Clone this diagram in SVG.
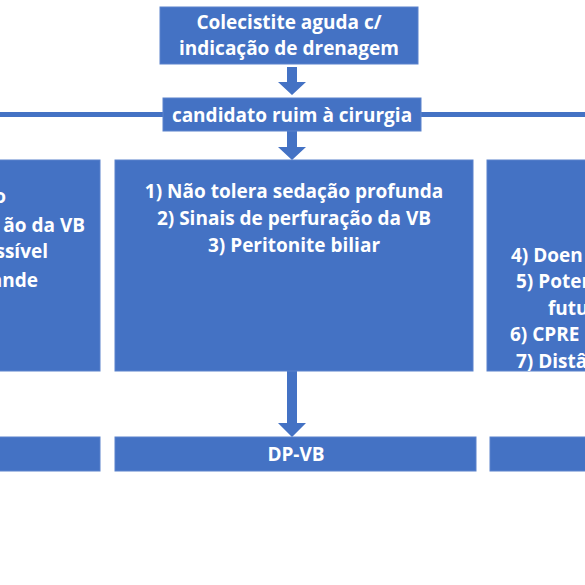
<svg xmlns="http://www.w3.org/2000/svg" width="585" height="585" viewBox="0 0 585 585">
  <style>
    .box { fill: #4472C4; stroke: #5a82cc; stroke-width: 1; }
    .conn { fill: #4472C4; }
    .t { font-family: "Open Sans", "Noto Sans", "DejaVu Sans", sans-serif; font-weight: 700; font-size: 19px; fill: #ffffff; }
    .c { text-anchor: middle; }
    .e { text-anchor: end; }
  </style>
  <defs>
    <clipPath id="clipRight"><rect x="487" y="160" width="120" height="211"/></clipPath>
    <clipPath id="clipLeft"><rect x="-260" y="160" width="360" height="211"/></clipPath>
  </defs>
  <rect width="585" height="585" fill="#ffffff"/>

  <g id="connectors">
    <rect class="conn" x="0" y="112" width="585" height="5"/>
    <polygon class="conn" points="287,67 297,67 297,82 306,82 292,95 278,82 287,82"/>
    <polygon class="conn" points="287,131 297,131 297,147 306,147 292,160 278,147 287,147"/>
    <polygon class="conn" points="287,371 297,371 297,423 306,423 292,437 278,423 287,423"/>
  </g>

  <g id="node-top">
    <rect class="box" x="160" y="7" width="258" height="57"/>
    <text class="t c" x="289" y="29">Colecistite aguda c/</text>
    <text class="t c" x="289" y="55">indicação de drenagem</text>
  </g>

  <g id="node-candidato">
    <rect class="box" x="163" y="98" width="258" height="33"/>
    <text class="t c" x="292" y="122">candidato ruim à cirurgia</text>
  </g>

  <g id="node-left">
    <rect class="box" x="-260" y="160" width="360" height="211"/>
    <g clip-path="url(#clipLeft)">
      <text class="t e" x="6" y="203">o</text>
      <text class="t e" x="85" y="232">ão da VB</text>
      <text class="t e" x="48" y="258">ssível</text>
      <text class="t e" x="38" y="287">ande</text>
    </g>
  </g>

  <g id="node-middle">
    <rect class="box" x="115" y="160" width="358" height="211"/>
    <text class="t c" x="294" y="198">1) Não tolera sedação profunda</text>
    <text class="t c" x="294" y="225">2) Sinais de perfuração da VB</text>
    <text class="t c" x="294" y="252">3) Peritonite biliar</text>
  </g>

  <g id="node-right">
    <rect class="box" x="487" y="160" width="360" height="211"/>
    <g clip-path="url(#clipRight)">
      <text class="t" x="511" y="262">4) Doen</text>
      <text class="t" x="516" y="288">5) Poten</text>
      <text class="t" x="548" y="315">futu</text>
      <text class="t" x="510" y="341">6) CPRE</text>
      <text class="t" x="516" y="368">7) Distâ</text>
    </g>
  </g>

  <g id="node-bottom-left">
    <rect class="box" x="-260" y="437" width="360" height="34"/>
  </g>

  <g id="node-dpvb">
    <rect class="box" x="115" y="437" width="361" height="34"/>
    <text class="t c" x="296" y="461">DP-VB</text>
  </g>

  <g id="node-bottom-right">
    <rect class="box" x="490" y="437" width="360" height="34"/>
  </g>
</svg>
